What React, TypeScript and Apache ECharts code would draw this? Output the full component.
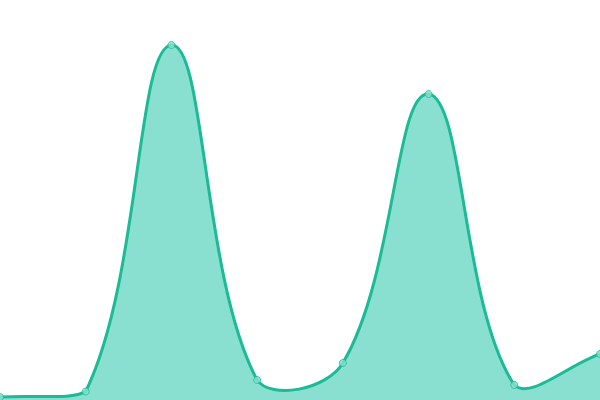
import React, { useEffect, useRef } from 'react';
import * as echarts from 'echarts';

const categories = ['1', '2', '3', '4', '5', '6', '7', '8'];
const values = [3, 8.5, 355, 20, 37, 306, 15, 46];

const LINE = '#1cba95';
const FILL = '#8ae0d0';
const TENSION = 0.4;

// spline through the points (cardinal-like, tension 0.4), control points kept inside the grid
function buildPaths(pts: number[][], rect: { x: number; y: number; width: number; height: number }) {
  const n = pts.length;
  const cps: { inX: number; inY: number; outX: number; outY: number }[] = [];
  const clampX = (v: number) => Math.max(rect.x, Math.min(rect.x + rect.width, v));
  const clampY = (v: number) => Math.max(rect.y, Math.min(rect.y + rect.height, v));
  for (let i = 0; i < n; i++) {
    const prev = pts[Math.max(0, i - 1)];
    const cur = pts[i];
    const next = pts[Math.min(n - 1, i + 1)];
    const d01 = Math.hypot(cur[0] - prev[0], cur[1] - prev[1]);
    const d12 = Math.hypot(next[0] - cur[0], next[1] - cur[1]);
    const sum = d01 + d12 || 1;
    const fa = (TENSION * d01) / sum;
    const fb = (TENSION * d12) / sum;
    cps.push({
      inX: clampX(cur[0] - fa * (next[0] - prev[0])),
      inY: clampY(cur[1] - fa * (next[1] - prev[1])),
      outX: clampX(cur[0] + fb * (next[0] - prev[0])),
      outY: clampY(cur[1] + fb * (next[1] - prev[1])),
    });
  }
  let d = `M${pts[0][0]},${pts[0][1]}`;
  for (let i = 1; i < n; i++) {
    d += ` C${cps[i - 1].outX},${cps[i - 1].outY} ${cps[i].inX},${cps[i].inY} ${pts[i][0]},${pts[i][1]}`;
  }
  const bottom = rect.y + rect.height;
  const area = d + ` L${pts[n - 1][0]},${bottom} L${pts[0][0]},${bottom} Z`;
  return { line: d, area };
}

function App() {
  const chartRef = useRef<HTMLDivElement>(null);

  useEffect(() => {
    document.body.style.margin = '0';
    const chart = echarts.init(chartRef.current, null, { renderer: 'svg' });

    const options = {
      animation: false,
      grid: { left: 0, right: 0, top: 0, bottom: 0 },
      xAxis: {
        type: 'category',
        boundaryGap: false,
        data: categories,
        show: false,
      },
      yAxis: {
        type: 'value',
        min: 0,
        max: 400,
        show: false,
      },
      series: [
        {
          type: 'custom',
          data: values,
          clip: false,
          z: 1,
          renderItem: (params: any, api: any) => {
            if (params.dataIndex !== 0) return null;
            const pts = values.map((v, i) => api.coord([i, v]));
            const rect = params.coordSys;
            const { line, area } = buildPaths(pts, rect);
            return {
              type: 'group',
              children: [
                { type: 'path', shape: { pathData: area }, style: { fill: FILL, stroke: 'none' } },
                {
                  type: 'path',
                  shape: { pathData: line },
                  style: { fill: 'none', stroke: LINE, lineWidth: 3, lineJoin: 'round' },
                },
              ],
            };
          },
        },
        {
          type: 'scatter',
          data: values,
          z: 3,
          symbol: 'circle',
          symbolSize: 7,
          itemStyle: { color: FILL, borderColor: LINE, borderWidth: 1 },
        },
      ],
    };

    chart.setOption(options);

    return () => {
      chart.dispose();
    };
  }, []);

  return <div ref={chartRef} style={{ width: '600px', height: '400px' }}></div>;
}

export default App;
